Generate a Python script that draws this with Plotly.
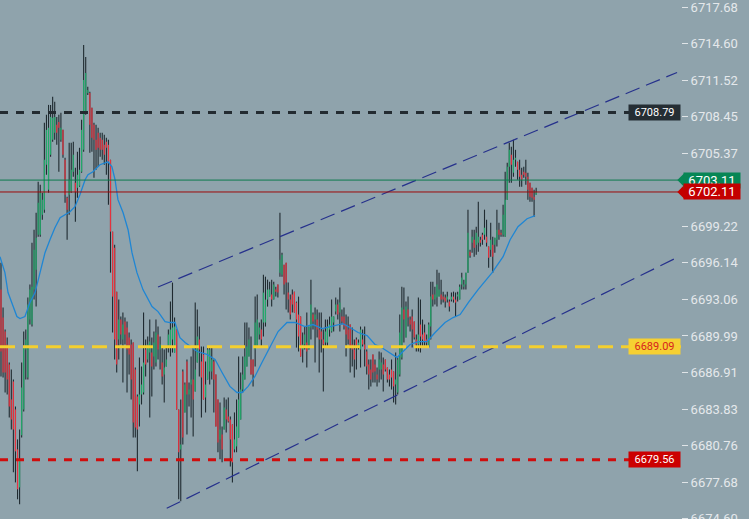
import plotly.graph_objects as go

# OHLC values, one entry per bar, oldest first
bar_high = [
    6696.16, 6692.38, 6690.53, 6689.85, 6687.75, 6687.16, 6686.32, 6684.05, 6681.28, 6682.12,
    6687.75, 6690.36, 6690.53, 6693.22, 6694.31, 6697.84, 6698.93, 6700.36, 6702.97, 6702.72,
    6702.05, 6707.93, 6708.60, 6709.44, 6709.44, 6710.12, 6709.70, 6708.43, 6708.60, 6708.77,
    6707.34, 6704.99, 6701.71, 6706.25, 6706.25, 6706.33, 6704.15, 6705.49, 6705.83, 6708.18,
    6714.49, 6713.48, 6710.96, 6710.54, 6709.19, 6707.93, 6707.76, 6707.51, 6707.09, 6707.09,
    6706.92, 6706.67, 6706.50, 6704.82, 6698.77, 6697.67, 6693.72, 6693.05, 6691.62, 6691.96,
    6691.54, 6691.20, 6690.28, 6689.69, 6689.43, 6687.33, 6685.06, 6688.17, 6687.42,
    6691.96, 6689.69, 6689.94, 6691.37, 6689.85, 6690.36, 6691.37, 6690.78, 6689.94, 6689.01,
    6688.85, 6689.01, 6690.53, 6692.88, 6694.48, 6691.54, 6690.53, 6683.80, 6684.64, 6687.16,
    6686.07, 6688.01, 6686.07,
    6688.26, 6689.10, 6692.80, 6692.21, 6690.78, 6689.10, 6689.10, 6687.84, 6689.10, 6689.10,
    6689.10, 6688.01, 6686.74, 6684.64, 6684.39, 6682.37, 6684.81, 6684.64, 6684.81, 6683.21,
    6682.54, 6683.55, 6684.64, 6688.26, 6686.91, 6688.26, 6691.12, 6691.12, 6690.70, 6689.94,
    6688.01, 6693.30, 6693.47, 6691.12, 6691.37, 6695.15, 6694.98, 6694.73, 6694.56, 6694.73,
    6694.56, 6694.14, 6694.31, 6700.36, 6697.00, 6695.99, 6696.16, 6694.48,
    6693.47, 6693.89, 6693.72, 6692.88, 6693.30, 6691.62, 6690.28, 6690.78, 6691.96, 6690.78,
    6694.73, 6691.96, 6692.38, 6692.21, 6691.96, 6691.96, 6690.53, 6691.37, 6691.37, 6691.62,
    6693.05, 6691.62, 6693.22, 6693.05, 6694.06, 6692.21, 6692.38, 6691.79, 6691.62, 6690.95,
    6690.70, 6689.69, 6689.85, 6689.69, 6690.78, 6690.53, 6690.78, 6688.85, 6688.01, 6688.01,
    6688.43,
    6688.01, 6687.33, 6688.68, 6688.59, 6688.17, 6688.01, 6687.33, 6687.16, 6688.01, 6687.00,
    6688.59, 6688.17, 6691.79, 6694.14, 6694.06, 6692.88, 6693.30, 6691.62, 6692.21, 6691.20,
    6690.11, 6693.22, 6693.05, 6691.37, 6690.95, 6690.11, 6691.12, 6694.56, 6694.56, 6694.14,
    6695.57, 6695.32, 6694.73, 6693.72, 6693.47, 6693.72, 6693.05, 6693.64, 6693.72, 6693.64,
    6693.72, 6694.31,
    6695.32, 6694.73, 6695.32, 6700.62, 6697.25, 6698.93, 6698.93, 6699.19, 6701.29, 6698.35,
    6698.68, 6700.62, 6699.78, 6697.51, 6699.52, 6698.35, 6698.26, 6700.62, 6699.52, 6698.93,
    6701.04, 6703.81, 6704.57, 6706.25, 6705.91, 6706.50, 6705.66, 6704.65, 6704.82, 6704.15,
    6704.23, 6704.82, 6703.73, 6702.89, 6702.46, 6702.30, 6702.46,
]
bar_low = [
    6686.58, 6686.49, 6685.23, 6685.06, 6683.13, 6682.12, 6678.51, 6677.66, 6676.24, 6675.82,
    6681.45, 6683.63, 6686.32, 6686.32, 6690.95, 6690.78, 6693.05, 6692.46, 6698.35, 6698.35,
    6699.78, 6700.36, 6703.56, 6702.05, 6705.07, 6706.33, 6706.50, 6706.08, 6703.81, 6706.33,
    6704.99, 6701.20, 6698.09, 6700.20, 6702.05, 6703.39, 6699.61, 6701.62, 6702.55, 6703.73,
    6705.49, 6708.60, 6710.28, 6705.41, 6705.49, 6703.31, 6703.98, 6704.23, 6705.07, 6704.82,
    6704.40, 6703.56, 6701.04, 6695.32, 6690.28, 6688.01, 6686.91, 6688.01, 6689.27, 6686.07,
    6689.27, 6685.23, 6686.74, 6684.64, 6681.45, 6681.45, 6678.59, 6682.37, 6684.22,
    6685.06, 6686.58, 6687.75, 6683.13, 6684.90, 6687.16, 6687.42, 6688.01, 6687.16, 6685.90,
    6684.39, 6687.42, 6688.59, 6688.26, 6688.59, 6688.59, 6683.80, 6676.24, 6676.07, 6680.86,
    6683.55, 6681.70, 6684.05,
    6683.13, 6681.53, 6685.32, 6687.75, 6686.58, 6683.13, 6684.64, 6683.55, 6686.32, 6685.90,
    6686.32, 6683.55, 6682.37, 6680.19, 6679.60, 6679.35, 6682.12, 6681.87, 6682.71, 6679.01,
    6677.66, 6680.19, 6680.19, 6681.45, 6682.96, 6685.23, 6686.32, 6687.42, 6688.26, 6686.74,
    6685.74, 6687.42, 6689.10, 6689.69, 6689.10, 6689.94, 6690.78, 6692.46, 6693.30, 6692.46,
    6693.05, 6693.30, 6693.22, 6694.98, 6694.98, 6693.47, 6692.21, 6691.96,
    6691.37, 6691.96, 6691.96, 6689.01, 6688.68, 6688.26, 6687.75, 6688.85, 6687.33, 6688.85,
    6689.69, 6690.53, 6687.75, 6689.85, 6686.91, 6688.59, 6685.32, 6689.10, 6689.10, 6689.94,
    6690.28, 6690.36, 6691.79, 6691.37, 6690.36, 6690.95, 6690.53, 6688.26, 6689.27, 6686.91,
    6687.42, 6686.49, 6687.16, 6688.85, 6687.33, 6689.10, 6687.42, 6686.74, 6685.48, 6685.74,
    6686.07,
    6686.07, 6685.74, 6686.07, 6686.32, 6685.32, 6687.00, 6686.07, 6685.74, 6685.48, 6684.39,
    6684.22, 6685.06, 6686.58, 6688.01, 6689.43, 6689.85, 6690.78, 6690.36, 6689.01, 6689.69,
    6688.68, 6688.68, 6688.59, 6689.01, 6689.01, 6689.01, 6689.01, 6689.69, 6692.46, 6692.63,
    6692.46, 6693.30, 6692.63, 6692.80, 6692.38, 6692.80, 6692.04, 6692.88, 6692.80, 6691.62,
    6692.88, 6693.05,
    6693.89, 6693.89, 6693.89, 6695.32, 6696.58, 6697.00, 6696.66, 6696.83, 6697.08, 6697.51,
    6697.67, 6698.09, 6697.51, 6695.74, 6696.66, 6695.32, 6697.00, 6697.51, 6698.09, 6698.35,
    6698.35, 6698.35, 6701.46, 6702.89, 6702.89, 6703.39, 6704.23, 6703.14, 6702.55, 6702.55,
    6703.31, 6702.72, 6701.46, 6701.29, 6701.29, 6700.03, 6701.88,
]
bar_open = [
    6693.89, 6691.54, 6690.36, 6689.27, 6687.59, 6684.64, 6686.16, 6683.80, 6680.44, 6677.24,
    6681.62, 6683.80, 6688.85, 6686.49, 6691.37, 6690.95, 6693.89, 6695.57, 6698.51, 6698.51,
    6700.20, 6700.62, 6704.40, 6702.30, 6705.24, 6706.50, 6707.09, 6707.76, 6708.01, 6706.50,
    6707.34, 6704.82, 6701.62, 6701.88, 6702.13, 6703.81, 6702.89, 6702.46, 6702.63, 6703.81,
    6705.66, 6708.77, 6710.45, 6710.45, 6709.19, 6707.76, 6706.50, 6707.09, 6706.67, 6706.50,
    6706.08, 6706.33, 6706.08, 6704.82, 6698.77, 6697.42, 6693.72, 6689.69, 6691.37, 6689.69,
    6691.20, 6690.70, 6689.85, 6689.27, 6689.43, 6687.16, 6684.90, 6684.22, 6685.06,
    6685.23, 6688.85, 6688.01, 6688.59, 6688.59, 6688.26, 6687.75, 6690.11, 6688.85, 6687.75,
    6686.74, 6687.42, 6689.10, 6689.10, 6689.69, 6688.59, 6690.53, 6683.80, 6680.44, 6687.00,
    6683.55, 6687.84, 6685.06,
    6685.90, 6686.32, 6685.32, 6687.75, 6689.69, 6687.84, 6688.43, 6684.81, 6686.32, 6687.00,
    6687.00, 6687.84, 6686.74, 6684.64, 6681.28, 6681.70, 6682.12, 6683.80, 6683.21, 6682.96,
    6682.54, 6680.44, 6680.69, 6681.45, 6682.96, 6685.48, 6686.32, 6687.42, 6688.26, 6688.01,
    6688.01, 6688.85, 6689.10, 6690.11, 6690.53, 6691.12, 6691.12, 6693.05, 6693.30, 6693.47,
    6693.05, 6693.89, 6694.31, 6695.32, 6695.15, 6695.99, 6696.16, 6693.64,
    6693.05, 6693.47, 6693.72, 6692.80, 6691.79, 6691.62, 6688.85, 6689.27, 6689.43, 6688.85,
    6690.70, 6691.79, 6691.37, 6691.37, 6690.53, 6690.36, 6689.69, 6689.43, 6689.43, 6690.53,
    6690.36, 6691.12, 6692.04, 6692.63, 6691.96, 6691.62, 6691.62, 6690.95, 6690.53, 6690.95,
    6689.27, 6688.85, 6689.69, 6689.01, 6688.85, 6689.69, 6689.27, 6688.68, 6687.59, 6687.16,
    6688.43,
    6687.59, 6686.74, 6687.16, 6687.16, 6687.59, 6688.01, 6687.33, 6686.74, 6687.16, 6687.00,
    6685.90, 6685.23, 6686.74, 6688.17, 6692.21, 6689.85, 6692.21, 6691.37, 6691.62, 6691.20,
    6689.69, 6689.27, 6690.95, 6690.11, 6690.28, 6689.69, 6689.10, 6690.78, 6693.47, 6693.05,
    6693.22, 6693.30, 6693.47, 6693.30, 6693.22, 6693.05, 6692.88, 6693.05, 6693.30, 6693.05,
    6693.30, 6693.05,
    6694.31, 6694.14, 6694.31, 6695.32, 6697.08, 6697.84, 6698.09, 6697.67, 6697.84, 6698.09,
    6698.51, 6698.51, 6698.35, 6697.51, 6697.25, 6697.67, 6697.67, 6698.09, 6698.93, 6698.68,
    6698.51, 6698.35, 6701.46, 6704.23, 6705.24, 6703.73, 6704.82, 6704.65, 6703.98, 6703.56,
    6703.81, 6703.73, 6703.39, 6702.89, 6702.46, 6701.71, 6701.88,
]
bar_close = [
    6688.68, 6686.91, 6686.91, 6686.32, 6684.05, 6682.96, 6682.12, 6680.27, 6677.08, 6679.60,
    6685.65, 6689.10, 6689.69, 6692.63, 6693.89, 6694.14, 6697.25, 6698.26, 6701.20, 6702.05,
    6701.46, 6704.82, 6707.34, 6707.51, 6708.43, 6708.35, 6708.43, 6707.09, 6707.51, 6707.51,
    6705.24, 6701.88, 6700.62, 6703.14, 6703.98, 6705.24, 6702.13, 6703.56, 6703.98, 6707.34,
    6711.54, 6712.13, 6710.70, 6707.76, 6706.67, 6706.50, 6705.66, 6705.83, 6705.66, 6705.66,
    6705.24, 6705.83, 6704.65, 6698.77, 6693.30, 6689.69, 6687.59, 6691.37, 6690.11, 6690.95,
    6690.11, 6688.85, 6688.43, 6686.32, 6682.71, 6682.29, 6682.12, 6685.06, 6685.90,
    6687.75, 6687.59, 6689.27, 6689.52, 6687.42, 6689.43, 6690.28, 6688.85, 6689.27, 6686.58,
    6687.33, 6688.01, 6690.11, 6690.53, 6690.70, 6690.78, 6683.80, 6680.19, 6680.86, 6681.45,
    6685.90, 6685.06, 6685.48,
    6686.32, 6684.64, 6687.16, 6689.94, 6688.85, 6686.49, 6684.64, 6685.90, 6688.85, 6688.85,
    6688.01, 6686.32, 6682.37, 6681.03, 6682.12, 6680.44, 6683.97, 6682.96, 6682.79, 6681.28,
    6679.35, 6681.28, 6682.37, 6684.64, 6685.48, 6686.74, 6688.26, 6689.10, 6689.69, 6686.74,
    6686.74, 6691.12, 6691.37, 6690.70, 6689.69, 6693.64, 6693.05, 6693.89, 6693.89, 6693.05,
    6694.31, 6693.72, 6693.64, 6696.41, 6696.83, 6694.31, 6694.48, 6693.05,
    6691.79, 6692.63, 6691.96, 6691.37, 6689.94, 6688.26, 6689.27, 6690.11, 6688.68, 6690.78,
    6692.63, 6691.20, 6691.79, 6690.53, 6689.69, 6689.69, 6689.27, 6690.36, 6690.78, 6690.95,
    6691.62, 6691.62, 6692.63, 6691.79, 6692.80, 6691.20, 6690.78, 6690.11, 6689.69, 6689.10,
    6688.85, 6688.01, 6689.01, 6689.43, 6690.53, 6689.27, 6688.85, 6687.42, 6686.74, 6686.32,
    6686.91,
    6687.00, 6686.32, 6688.01, 6687.75, 6686.74, 6687.16, 6686.32, 6686.32, 6686.49, 6685.74,
    6686.32, 6688.01, 6690.28, 6692.38, 6691.37, 6692.46, 6691.54, 6690.95, 6690.53, 6689.85,
    6689.27, 6690.11, 6689.94, 6689.69, 6689.52, 6689.43, 6690.95, 6693.30, 6693.05, 6693.47,
    6694.31, 6693.89, 6693.05, 6693.05, 6692.88, 6693.30, 6692.46, 6693.30, 6693.05, 6692.80,
    6693.47, 6694.14,
    6694.90, 6694.31, 6695.32, 6698.68, 6696.75, 6698.35, 6697.42, 6698.68, 6698.35, 6697.84,
    6698.09, 6699.10, 6697.84, 6696.58, 6698.09, 6696.66, 6698.26, 6698.93, 6698.51, 6698.51,
    6700.20, 6701.46, 6704.23, 6705.66, 6704.40, 6704.82, 6704.99, 6703.98, 6703.39, 6703.14,
    6703.56, 6703.39, 6702.30, 6701.71, 6701.62, 6701.46, 6702.11,
]

# moving average, read at a handful of bar positions
ma_index = [
    -0.5, 1.9, 3.4, 5.8, 7.7, 9.2, 11.6, 14.0, 16.5, 18.9, 21.3, 23.7, 26.1, 28.6, 31.0,
    33.4, 35.8, 38.2, 40.7, 42.1, 44.5, 47.9, 51.8, 53.7, 55.2, 56.6, 59.1, 61.5, 63.4,
    65.8, 68.7, 71.2, 73.1, 76.0, 79.4, 81.8, 84.2, 86.6, 89.1, 92.4, 94.9, 99.7, 103.6,
    107.0, 110.8, 114.2, 116.7, 119.6, 122.9, 126.3, 130.2, 134.1, 138.4, 142.3, 147.1,
    151.0, 155.4, 160.2, 165.5, 168.9, 172.8, 177.2, 181.0, 183.4, 188.3, 191.7, 194.1,
    198.0, 201.8, 206.2, 210.1, 214.9, 218.8, 222.2, 226.5, 230.9, 237.7, 243.0, 246.4,
    250.2, 254.6, 258.5,
]
ma_value = [
    6696.66, 6695.32, 6693.64, 6692.46, 6691.62, 6691.45, 6691.62, 6692.80, 6693.64, 6695.32,
    6697.00, 6698.09, 6699.10, 6699.94, 6700.20, 6700.45, 6700.87, 6701.88, 6703.14, 6703.56,
    6703.81, 6704.40, 6704.65, 6704.23, 6703.14, 6701.46, 6700.36, 6698.93, 6697.00, 6695.32,
    6693.89, 6693.05, 6692.46, 6692.04, 6691.20, 6691.12, 6691.12, 6689.85, 6689.43, 6689.01,
    6688.68, 6688.43, 6688.01, 6686.91, 6685.74, 6685.23, 6685.23, 6685.74, 6686.58, 6687.75,
    6689.10, 6690.36, 6691.12, 6691.12, 6690.78, 6690.95, 6690.61, 6690.78, 6691.03, 6690.70,
    6690.28, 6690.02, 6689.27, 6689.10, 6688.59, 6688.17, 6688.59, 6689.27, 6689.52, 6689.52,
    6690.28, 6691.12, 6691.54, 6691.79, 6692.88, 6693.89, 6695.32, 6696.66, 6698.09, 6699.19,
    6699.86, 6700.12,
]

# trend channel end points (bar index, price)
upper_channel_x = [76.0, 327.2]
upper_channel_y = [6694.11, 6712.17]
lower_channel_x = [80.2, 327.2]
lower_channel_y = [6675.48, 6696.59]

# horizontal levels with their price tags
level_values = [6708.79, 6689.09, 6679.56]
level_line_colors = ["#232b31", "#f4cf2e", "#cf0d0d"]
level_box_colors = ["#252e34", "#f6d032", "#cc0000"]
level_text_colors = ["#ffffff", "#d81e1e", "#ffffff"]
level_dashes = ["8px,8px", "15px,8px", "8px,8px"]

ask_price = 6703.11
bid_price = 6702.11

tick_values = [6717.68, 6714.60, 6711.52, 6708.45, 6705.37, 6699.22, 6696.14,
               6693.06, 6689.99, 6686.91, 6683.83, 6680.76, 6677.68, 6674.60]

Y_MIN, Y_MAX = 6674.58, 6718.27
X_MIN, X_MAX = -0.48, 329.1
BG = "#8fa3ac"
WICK = "#1f2a30"
UP = "#22a86a"
DOWN = "#e5323e"

fig = go.Figure()

wick_x, wick_y = [], []
up_x, up_y, down_x, down_y = [], [], [], []
for i, (h, l, o, c) in enumerate(zip(bar_high, bar_low, bar_open, bar_close)):
    wick_x += [i, i, None]
    wick_y += [l, h, None]
    if c > o:
        up_x += [i, i, None]
        up_y += [o, c, None]
    elif c < o:
        down_x += [i, i, None]
        down_y += [o, c, None]

fig.add_trace(go.Scatter(x=wick_x, y=wick_y, mode="lines",
                         line={"color": WICK, "width": 1.1}, hoverinfo="skip"))
fig.add_trace(go.Scatter(x=up_x, y=up_y, mode="lines",
                         line={"color": UP, "width": 1.2}, hoverinfo="skip"))
fig.add_trace(go.Scatter(x=down_x, y=down_y, mode="lines",
                         line={"color": DOWN, "width": 1.2}, hoverinfo="skip"))

fig.add_trace(go.Scatter(x=ma_index, y=ma_value, mode="lines",
                         line={"color": "#1f86d4", "width": 1.3}, hoverinfo="skip"))

for cx, cy in [(upper_channel_x, upper_channel_y), (lower_channel_x, lower_channel_y)]:
    fig.add_trace(go.Scatter(x=cx, y=cy, mode="lines",
                             line={"color": "#26318c", "width": 1.2, "dash": "15px,7px"},
                             hoverinfo="skip"))

# bid / ask lines
fig.add_shape(type="line", xref="paper", yref="y", x0=0, x1=1, y0=ask_price, y1=ask_price,
              line={"color": "#0d7a4e", "width": 1})
fig.add_shape(type="line", xref="paper", yref="y", x0=0, x1=1, y0=bid_price, y1=bid_price,
              line={"color": "#9e0a0a", "width": 1})

for v, lc, bc, tc, d in zip(level_values, level_line_colors, level_box_colors,
                            level_text_colors, level_dashes):
    fig.add_shape(type="line", xref="paper", yref="y", x0=0, x1=1, y0=v, y1=v,
                  line={"color": lc, "width": 3, "dash": d})
    fig.add_annotation(x=1, xref="paper", xanchor="right", y=v, yref="y", yanchor="middle",
                       text=f"{v:.2f}", showarrow=False, bgcolor=bc, borderpad=0,
                       width=51, height=15,
                       font={"family": "Roboto", "size": 11, "color": tc})


def to_paper(v):
    return (v - Y_MIN) / (Y_MAX - Y_MIN)


# arrow-shaped price tags in the right margin; the bid tag sits over the ask tag
half = 0.62
tip, left = 0.9946, 1.0035
for v, col in [(ask_price, "#078655"), (bid_price, "#c40000")]:
    path = (f"M {tip},{to_paper(v)} L {left + 0.002},{to_paper(v + half)} "
            f"L {left + 0.002},{to_paper(v - half)} Z")
    fig.add_shape(type="path", xref="paper", yref="paper", path=path,
                  fillcolor=col, line={"width": 0})
    fig.add_annotation(x=left, xref="paper", xanchor="left",
                       y=to_paper(v), yref="paper", yanchor="middle",
                       text=f"{v:.2f}", showarrow=False, bgcolor=col, borderpad=0,
                       width=56, height=15,
                       font={"family": "Roboto", "size": 13, "color": "#ffffff"})

fig.update_xaxes(range=[X_MIN, X_MAX], visible=False, showgrid=False, zeroline=False,
                 automargin=False)
fig.update_yaxes(range=[Y_MIN, Y_MAX], side="right", showgrid=False, zeroline=False,
                 showline=False, ticks="outside", ticklen=6, tickwidth=1,
                 tickcolor="#dfe4e7", tickvals=tick_values,
                 ticktext=[f"{t:.2f}" for t in tick_values],
                 ticklabeloverflow="allow", automargin=False,
                 tickfont={"family": "Roboto", "size": 13, "color": "#e4e8eb"})

fig.update_layout(
    width=749,
    height=519,
    margin={"l": 0, "r": 68, "t": 0, "b": 0, "autoexpand": False},
    paper_bgcolor=BG,
    plot_bgcolor=BG,
    showlegend=False,
)

fig.write_html("out.html", config={"displayModeBar": False},
               post_script="document.body.style.margin='0';"
                           "document.body.style.overflow='hidden';")
